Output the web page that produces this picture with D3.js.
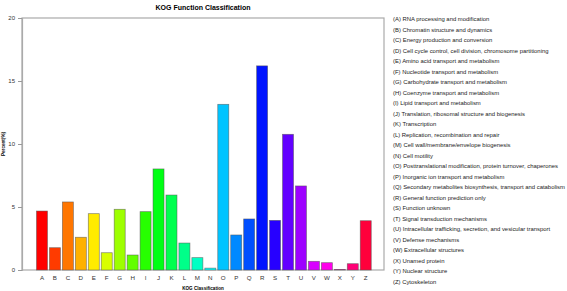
<!DOCTYPE html>
<html>
<head>
<meta charset="utf-8">
<script src="https://cdn.jsdelivr.net/npm/d3@7"></script>
<style>
  body { margin: 0; background: #fff; }
  svg { display: block; font-family: "Liberation Sans", Arial, sans-serif; }
</style>
</head>
<body>
<svg width="567" height="291"></svg>
<script>
const codes = ["A","B","C","D","E","F","G","H","I","J","K","L","M","N","O","P","Q","R","S","T","U","V","W","X","Y","Z"];
const percents = [4.68, 1.77, 5.40, 2.60, 4.47, 1.37, 4.82, 1.19, 4.63, 8.02, 5.95, 2.14, 0.98,
  0.15, 13.15, 2.78, 4.05, 16.2, 3.94, 10.77, 6.67, 0.69, 0.58, 0.05, 0.50, 3.91];
const descriptions = [
  "RNA processing and modification",
  "Chromatin structure and dynamics",
  "Energy production and conversion",
  "Cell cycle control, cell division, chromosome partitioning",
  "Amino acid transport and metabolism",
  "Nucleotide transport and metabolism",
  "Carbohydrate transport and metabolism",
  "Coenzyme transport and metabolism",
  "Lipid transport and metabolism",
  "Translation, ribosomal structure and biogenesis",
  "Transcription",
  "Replication, recombination and repair",
  "Cell wall/membrane/envelope biogenesis",
  "Cell motility",
  "Posttranslational modification, protein turnover, chaperones",
  "Inorganic ion transport and metabolism",
  "Secondary metabolites biosynthesis, transport and catabolism",
  "General function prediction only",
  "Function unknown",
  "Signal transduction mechanisms",
  "Intracellular trafficking, secretion, and vesicular transport",
  "Defense mechanisms",
  "Extracellular structures",
  "Unamed protein",
  "Nuclear structure",
  "Cytoskeleton"
];
const yTicks = [0, 5, 10, 15, 20];

const data = codes.map((c, i) => ({ code: c, value: percents[i], desc: descriptions[i] }));

// Sizes
const box = { l: 22, r: 384, t: 18, b: 270 };

const svg = d3.select("svg");

// Scales
const xScale = d3.scaleBand()
  .domain(codes)
  .range([35.5, 372.2])
  .paddingInner(0.15)
  .paddingOuter(0.075);

const yScale = d3.scaleLinear()
  .domain([0, 20])
  .range([box.b, box.t]);

// rainbow like R's rainbow(26)
const color = (d, i) => d3.hsl(360 * i / codes.length, 1, 0.5).formatHex();

// Plot frame
svg.append("rect")
  .attr("x", box.l)
  .attr("y", box.t)
  .attr("width", box.r - box.l)
  .attr("height", box.b - box.t)
  .attr("fill", "none")
  .attr("stroke", "#aaa")
  .attr("stroke-width", 1.2);

// Y axis
const yAxis = svg.append("g")
  .attr("transform", `translate(${box.l}, 0)`)
  .call(d3.axisLeft(yScale).tickValues(yTicks).tickSize(4).tickPadding(3));
yAxis.select(".domain").attr("stroke", "#aaa").attr("stroke-width", 1.2);
yAxis.selectAll(".tick line").attr("stroke", "#999");
yAxis.selectAll(".tick text")
  .attr("font-size", 6)
  .attr("fill", "#333")
  .attr("font-family", "Liberation Sans, Arial, sans-serif");

// X tick labels
svg.append("g")
  .selectAll("text")
  .data(codes)
  .enter()
  .append("text")
    .attr("x", d => xScale(d) + xScale.bandwidth() / 2)
    .attr("y", 280)
    .attr("text-anchor", "middle")
    .attr("font-size", 6.2)
    .attr("fill", "#333")
    .text(d => d);

// Bars
svg.append("g")
  .selectAll("rect")
  .data(data)
  .enter()
  .append("rect")
    .attr("x", d => xScale(d.code))
    .attr("y", d => yScale(d.value))
    .attr("width", xScale.bandwidth())
    .attr("height", d => yScale(0) - yScale(d.value))
    .attr("fill", color)
    .attr("stroke", "#555")
    .attr("stroke-opacity", 0.7)
    .attr("stroke-width", 0.7);

// Title and axis labels
svg.append("text")
  .attr("x", 203)
  .attr("y", 10)
  .attr("text-anchor", "middle")
  .attr("font-size", 7)
  .attr("font-weight", "bold")
  .text("KOG Function Classification");

svg.append("text")
  .attr("x", 203)
  .attr("y", 290)
  .attr("text-anchor", "middle")
  .attr("font-size", 4.6)
  .attr("font-weight", "bold")
  .text("KOG Classification");

svg.append("text")
  .attr("transform", "translate(5, 144) rotate(-90)")
  .attr("text-anchor", "middle")
  .attr("font-size", 4.6)
  .attr("font-weight", "bold")
  .text("Percent(%)");

// Legend
svg.append("g")
  .selectAll("text")
  .data(data)
  .enter()
  .append("text")
    .attr("x", 393)
    .attr("y", (d, i) => 21 + i * 10.5)
    .attr("font-size", 5.9)
    .attr("fill", "#222")
    .text(d => `(${d.code}) ${d.desc}`);
</script>
</body>
</html>
